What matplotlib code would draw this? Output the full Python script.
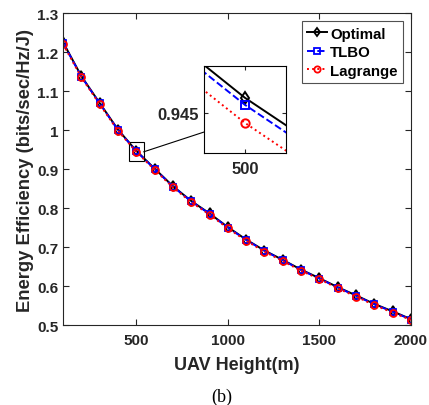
import matplotlib
matplotlib.use("Agg")
import matplotlib.pyplot as plt
from matplotlib.patches import Rectangle, ConnectionPatch

# Data
height = [100, 200, 300, 400, 500, 600, 700, 800, 900, 1000,
          1100, 1200, 1300, 1400, 1500, 1600, 1700, 1800, 1900, 2000]
optimal = [1.225, 1.138, 1.069, 1.001, 0.9465, 0.901, 0.856, 0.818, 0.786, 0.751,
           0.719, 0.691, 0.667, 0.642, 0.620, 0.597, 0.576, 0.554, 0.535, 0.515]
tlbo = [1.223, 1.137, 1.068, 1.000, 0.9458, 0.900, 0.855, 0.817, 0.785, 0.750,
        0.718, 0.690, 0.666, 0.641, 0.619, 0.596, 0.575, 0.553, 0.534, 0.514]
lagrange = [1.220, 1.135, 1.066, 0.998, 0.9440, 0.898, 0.853, 0.815, 0.783, 0.748,
            0.716, 0.688, 0.664, 0.639, 0.618, 0.594, 0.573, 0.551, 0.532, 0.513]
xticks = [500, 1000, 1500, 2000]
yticks = [0.5, 0.6, 0.7, 0.8, 0.9, 1.0, 1.1, 1.2, 1.3]
ytick_labels = ["0.5", "0.6", "0.7", "0.8", "0.9", "1", "1.1", "1.2", "1.3"]

plt.rcParams['font.family'] = ['Liberation Sans', 'DejaVu Sans']
plt.rcParams['font.weight'] = 'bold'

fig = plt.figure(figsize=(4.29, 4.06), dpi=100)
ax = fig.add_axes([0.147, 0.197, 0.811, 0.7685])

styles = [
    (optimal, 'Optimal', dict(color='black', linestyle='-', marker='d')),
    (tlbo, 'TLBO', dict(color='blue', linestyle='--', marker='s')),
    (lagrange, 'Lagrange', dict(color='red', linestyle=':', marker='o')),
]
for vals, name, st in styles:
    ax.plot(height, vals, label=name, linewidth=1.4, markersize=5,
            markerfacecolor='none', markeredgewidth=1.3, **st)

ax.set_xlim(100, 2000)
ax.set_ylim(0.5, 1.3)
ax.set_xticks(xticks)
ax.set_yticks(yticks)
ax.set_yticklabels(ytick_labels)
ax.tick_params(direction='in', top=True, right=True, labelsize=11,
               colors='#262626', length=4)
ax.tick_params(axis='x', pad=6)
for s in ax.spines.values():
    s.set_color('#262626')
ax.set_xlabel('UAV Height(m)', fontsize=13, fontweight='bold', color='#262626',
              labelpad=6)
ax.set_ylabel('Energy Efficiency (bits/sec/Hz/J)', fontsize=13.2,
              fontweight='bold', color='#262626', labelpad=2)

leg = ax.legend(loc='upper right', fontsize=10.8, handlelength=1.3,
                handletextpad=0.2, borderpad=0.35, labelspacing=0.3,
                fancybox=False, edgecolor='#262626', borderaxespad=0.55,
                markerscale=0.9)
leg.get_frame().set_linewidth(0.8)

# zoom box
ax.add_patch(Rectangle((460, 0.921), 80, 0.048, fill=False,
                       edgecolor='black', linewidth=0.8))

# inset
axin = fig.add_axes([0.4755, 0.6207, 0.191, 0.215])
for vals, name, st in styles:
    axin.plot(height, vals, linewidth=1.4, markersize=6,
              markerfacecolor='none', markeredgewidth=1.4, **st)
axin.set_xlim(494, 506)
axin.set_ylim(0.941, 0.9497)
axin.set_xticks([500])
axin.set_yticks([0.945])
axin.set_yticklabels(['0.945'])
axin.tick_params(direction='in', top=True, right=True, labelsize=12,
                 colors='#262626', length=3)
axin.tick_params(axis='x', pad=6)

con = ConnectionPatch(xyA=(540, 0.944), coordsA=ax.transData,
                      xyB=(0, 0.24), coordsB=axin.transAxes,
                      color='black', linewidth=0.8)
fig.add_artist(con)

fig.text(0.517, 0.022, '(b)', fontsize=13, fontweight='normal',
         family='Liberation Serif', ha='center', va='center')

fig.savefig('out.png', dpi=100)
